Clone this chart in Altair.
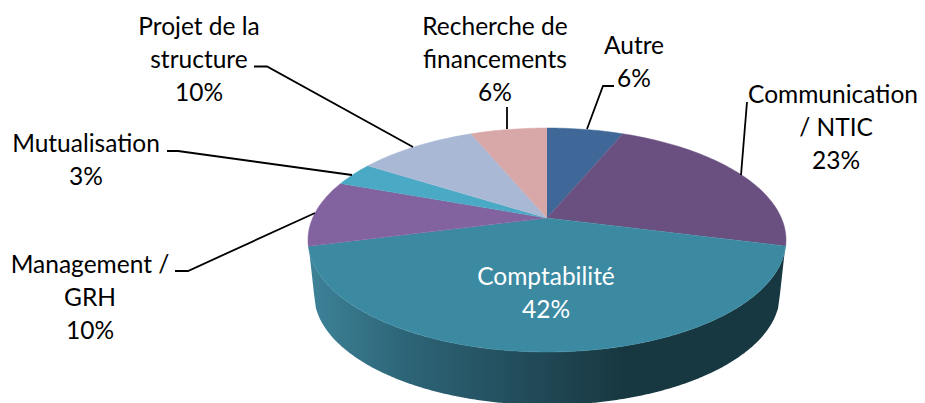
import math
import altair as alt
import pandas as pd

# Shares, clockwise from the top of the pie
categories = ["Autre", "Communication / NTIC", "Comptabilité", "Management / GRH",
              "Mutualisation", "Projet de la structure", "Recherche de financements"]
shares = [6.25, 22.75, 42.0, 9.55, 3.45, 9.75, 6.25]
colors = ["#3f6797", "#6a5081", "#3c8aa2", "#8263a0", "#4aa9c4", "#a9b8d5", "#d8a7a7"]

# Labels (one row per text line)
label_text = ["Projet de la", "structure", "10%",
              "Mutualisation", "3%",
              "Management /", "GRH", "10%",
              "Recherche de", "financements", "6%",
              "Autre", "6%",
              "Communication", "/ NTIC", "23%",
              "Comptabilité", "42%"]
label_x = [199, 199, 199, 86, 86, 90, 90, 90, 495, 495, 495, 634, 634, 833, 836, 836, 546, 546]
label_y = [28, 61, 94, 145, 178, 266, 299, 332, 28, 61, 94, 47, 80, 96, 129, 162, 278, 311]
label_color = ["#000000"] * 16 + ["#ffffff"] * 2

# Leader lines
leaders = [
    [(254, 66.5), (267, 66.5), (413, 147)],
    [(167, 151), (178, 151), (352, 175)],
    [(175, 271), (188, 271), (315, 213)],
    [(507, 107), (507, 129)],
    [(614, 86), (603, 86), (587, 129)],
    [(747, 102), (741, 175)],
]

# Pie geometry in page pixels
CX, CY, RX, RY = 547, 240, 239, 112      # top-face ellipse
APEX = 218                               # where the slices meet (perspective)
D = (CY - APEX) / RY
BOT_CY, BOT_RX, BOT_RY = 294, 233, 111   # lower edge of the wall
W, H = 909, 395


def rim(theta):
    X, Y = math.sin(theta), math.cos(theta)
    den = 1 + D * Y
    return CX + RX * X * math.sqrt(1 - D * D) / den, CY - RY * (Y + D) / den


face_rows = []
acc = 0.0
for cat, share in zip(categories, shares):
    a0 = acc / 100 * 2 * math.pi
    acc += share
    a1 = acc / 100 * 2 * math.pi
    n = max(8, int(share * 3))
    pts = [(CX, APEX)] + [rim(a0 + (a1 - a0) * k / n) for k in range(n + 1)]
    for i, (x, y) in enumerate(pts):
        face_rows.append({"cat": cat, "i": i, "x": x, "y": y})
face_df = pd.DataFrame(face_rows)

x_scale = alt.Scale(domain=[8, 8 + W], range=[0, W], nice=False, zero=False)
y_scale = alt.Scale(domain=[8, 8 + H], range=[0, H], nice=False, zero=False)
X = alt.X("x:Q", scale=x_scale, axis=None)
Y = alt.Y("y:Q", scale=y_scale, axis=None)

# Wall: between the front of the top rim and the lower edge
wall_rows = []
xl, xr = CX - RX, CX + RX
steps = 240
for k in range(steps + 1):
    x = xl + (xr - xl) * k / steps
    u = (x - CX) / RX
    top = CY + RY * math.sqrt(max(0, 1 - u * u))
    v = (x - CX) / BOT_RX
    if abs(v) <= 1:
        bot = BOT_CY + BOT_RY * math.sqrt(1 - v * v)
    else:
        bot = CY + (BOT_CY - CY) * (abs(x - CX) - RX) / (BOT_RX - RX)
    wall_rows.append({"x": x, "y": bot, "y2": top})
wall_df = pd.DataFrame(wall_rows)

wall = alt.Chart(wall_df).mark_area(
    fill=alt.Gradient(
        gradient="linear", x1=0, x2=1, y1=0, y2=0,
        stops=[
            alt.GradientStop(offset=0, color="#3e8399"),
            alt.GradientStop(offset=0.2, color="#2d6578"),
            alt.GradientStop(offset=0.45, color="#224c5a"),
            alt.GradientStop(offset=0.66, color="#183841"),
            alt.GradientStop(offset=1, color="#183841"),
        ],
    ),
).encode(x=X, y=Y, y2="y2:Q")

layers = [wall]
for cat, col in zip(categories, colors):
    layers.append(
        alt.Chart(face_df[face_df["cat"] == cat]).mark_line(
            fill=col, stroke=col, strokeWidth=0.5
        ).encode(x=X, y=Y, order="i:Q")
    )

leader_rows = []
for j, line in enumerate(leaders):
    for i, (x, y) in enumerate(line):
        leader_rows.append({"id": j, "i": i, "x": x, "y": y})
layers.append(
    alt.Chart(pd.DataFrame(leader_rows)).mark_line(color="#000000", strokeWidth=1.8).encode(
        x=X, y=Y, detail="id:N", order="i:Q"
    )
)

labels_df = pd.DataFrame({"t": label_text, "x": label_x, "y": label_y, "c": label_color})
layers.append(
    alt.Chart(labels_df).mark_text(
        font="Lato", fontSize=24.5, align="center", baseline="middle"
    ).encode(x=X, y=Y, text="t:N", color=alt.Color("c:N", scale=None))
)

chart = alt.layer(*layers).properties(
    width=W, height=H, padding=0, autosize=alt.AutoSizeParams(type="none"),
).configure_view(stroke=None)

chart.save("out.html", embed_options={"renderer": "svg", "actions": False})
